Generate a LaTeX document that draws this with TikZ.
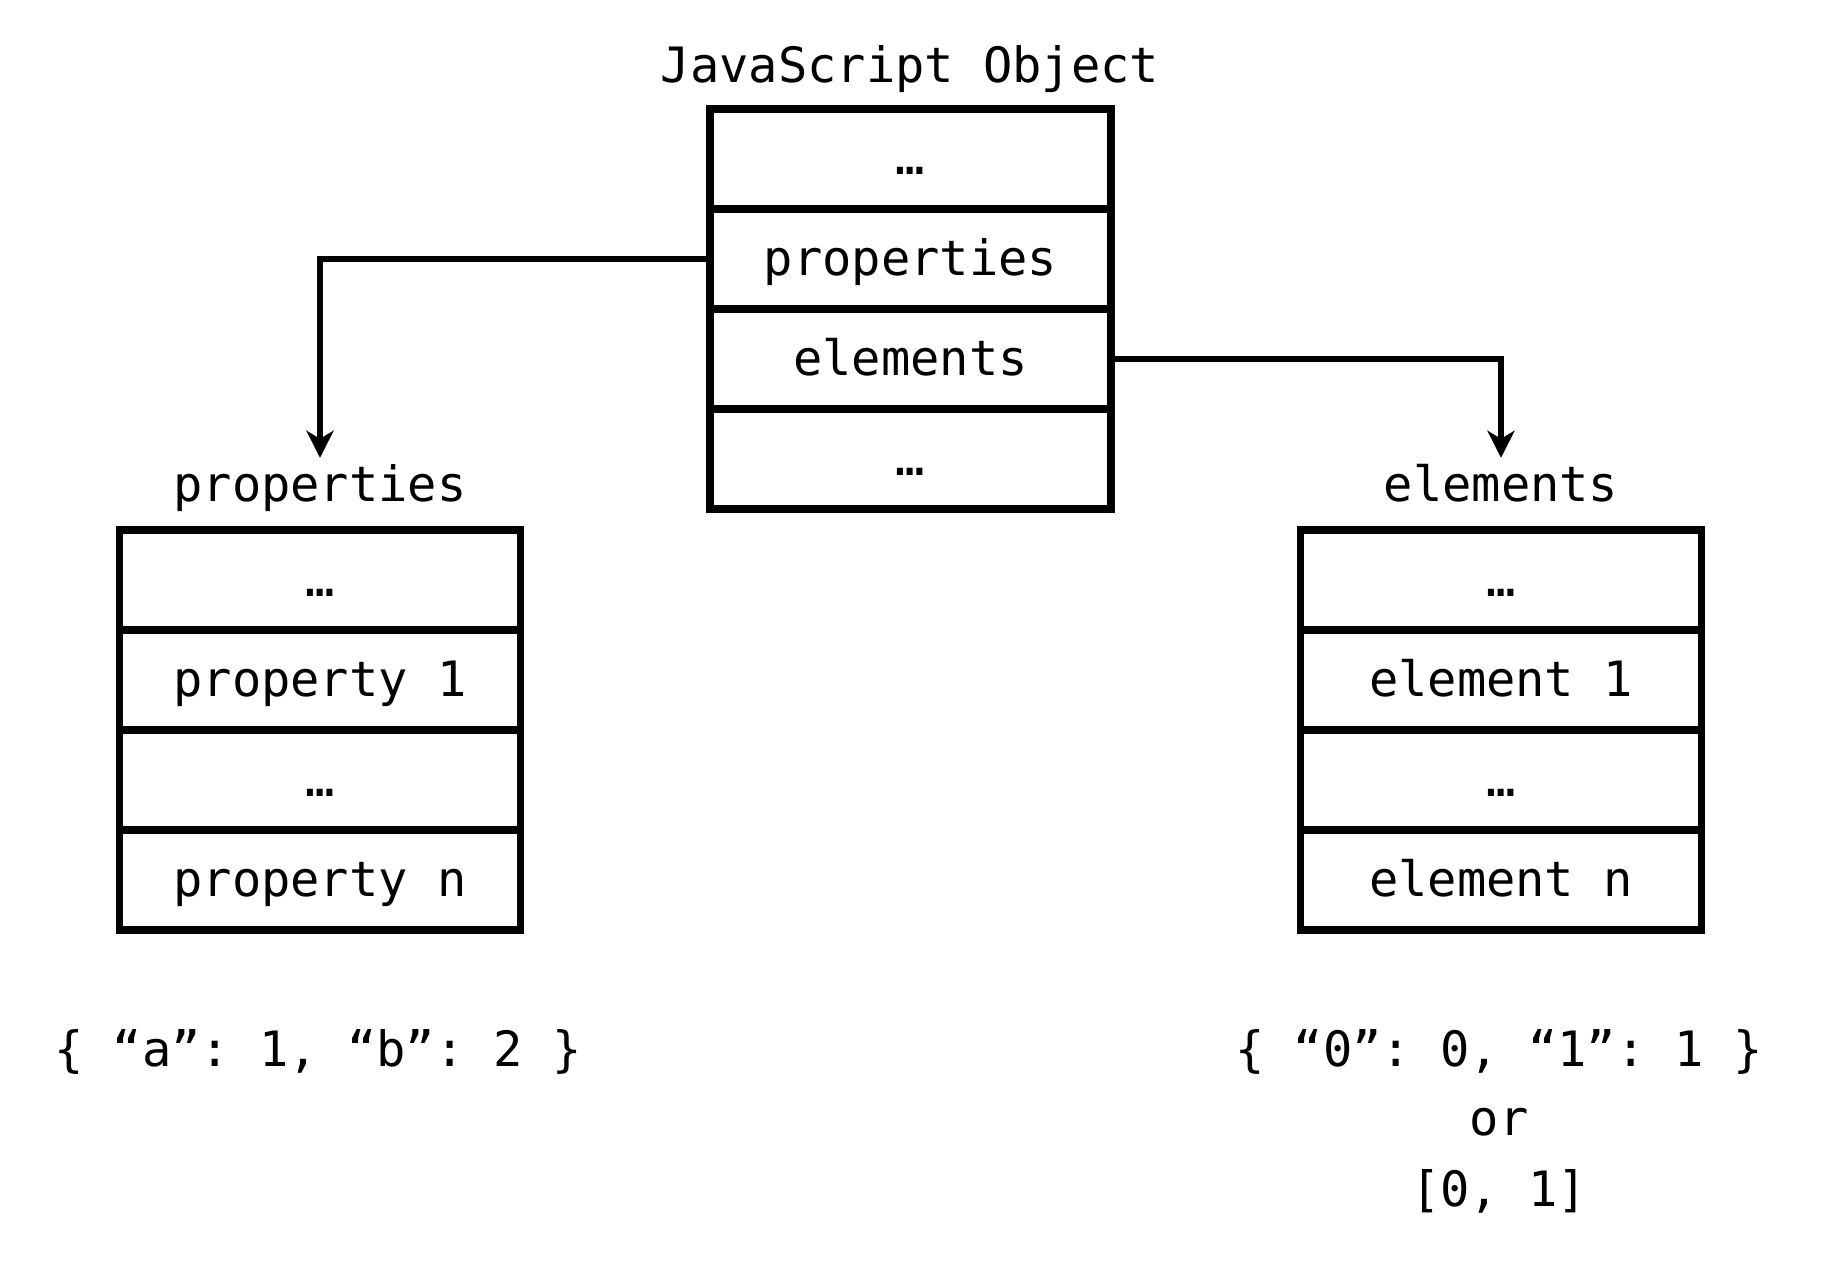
\documentclass[tikz,border=0pt]{standalone}
\usepackage{fontspec}
\setmonofont{DejaVu Sans Mono}
\usetikzlibrary{arrows.meta}
\begin{document}
\begin{tikzpicture}[x=1pt,y=-1pt,
  every node/.style={font=\ttfamily\fontsize{48.7}{60}\selectfont, inner sep=0pt},
  cell/.style={draw, line width=7.5pt, minimum width=401pt, minimum height=100pt,
    text height=36pt, text depth=4pt},
  title/.style={anchor=base, text height=36pt, text depth=10pt},
  link/.style={line width=6pt, -{Stealth[length=27pt,width=27pt,inset=8pt]}}
]
\useasboundingbox (0,0) rectangle (1826,1268);

% object header and its slots
\node[title] (otitle) at (910,83) {JavaScript Object};
\node[cell] (o1) at (910.5,159) {…};
\node[cell] (o2) at (910.5,259) {properties};
\node[cell] (o3) at (910.5,359) {elements};
\node[cell] (o4) at (910.5,459) {…};

% properties store
\node[title] (ptitle) at (320,501.5) {properties};
\node[cell] (p1) at (320,580) {…};
\node[cell] (p2) at (320,680) {property 1};
\node[cell] (p3) at (320,780) {…};
\node[cell] (p4) at (320,880) {property n};

% elements store
\node[title] (etitle) at (1501,501.5) {elements};
\node[cell] (e1) at (1501,580) {…};
\node[cell] (e2) at (1501,680) {element 1};
\node[cell] (e3) at (1501,780) {…};
\node[cell] (e4) at (1501,880) {element n};

% example literals
\node[anchor=base] (pex) at (318,1066) {\{ “a”: 1, “b”: 2 \}};
\node[anchor=base] (eex1) at (1499,1066) {\{ “0”: 0, “1”: 1 \}};
\node[anchor=base] (eex2) at (1499,1135) {or};
\node[anchor=base] (eex3) at (1499,1206) {[0, 1]};

% pointers from the object slots to the stores
\draw[link] (o2.west) -| ([yshift=7.5pt]ptitle.north);
\draw[link] (o3.east) -| ([yshift=7.5pt]etitle.north);
\end{tikzpicture}
\end{document}
